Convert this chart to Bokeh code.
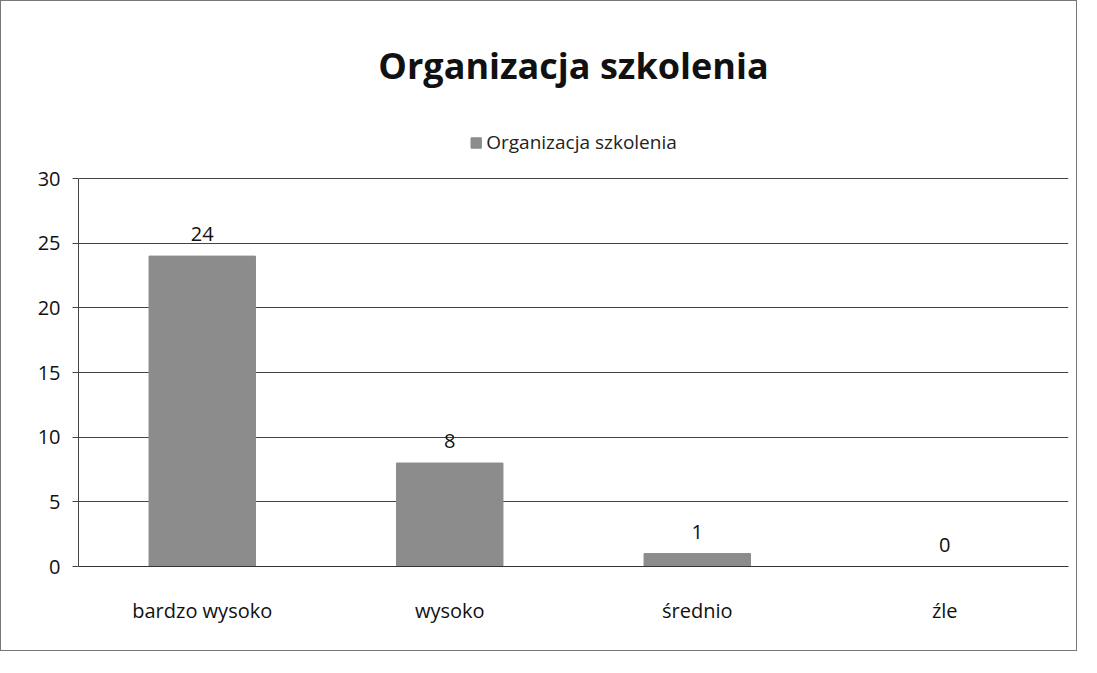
from bokeh.plotting import figure
from bokeh.models import ColumnDataSource, Legend, LegendItem, FixedTicker, Range1d
from bokeh.core.properties import value
from bokeh.embed import file_html
from bokeh.resources import INLINE

title_text = "Organizacja szkolenia"
series_name = "Organizacja szkolenia"
categories = ["bardzo wysoko", "wysoko", "średnio", "źle"]
values = [24, 8, 1, 0]
y_ticks = [0, 5, 10, 15, 20, 25, 30]

FONT = "Open Sans"
src = ColumnDataSource(dict(cat=categories, val=values, lab=[str(v) for v in values]))

# extra headroom above 30 holds the legend; axis line stops at 30
p = figure(x_range=categories, y_range=Range1d(0, 34.64), frame_width=990, frame_height=448,
           output_backend="svg", toolbar_location=None,
           min_border_left=77, min_border_right=8, min_border_bottom=84, min_border_top=117)
p.styles = {"border": "1px solid #777"}

r = p.vbar(x="cat", top="val", width=0.43, source=src, fill_color="#8c8c8c", line_color="#8c8c8c")
p.text(x="cat", y="val", text="lab", source=src, text_align="center", text_baseline="bottom",
       y_offset=-15, text_font=value(FONT), text_font_size="20px", text_color="#111")

p.title.text = title_text
p.title.align = "center"
p.title.text_font = FONT
p.title.text_font_size = "36px"
p.title.text_font_style = "bold"
p.title.text_color = "#111"
p.title.standoff = 57

legend = Legend(items=[LegendItem(label=series_name, renderers=[r])], orientation="horizontal",
                location="top_center", label_text_font=FONT, label_text_font_size="19px",
                label_text_color="#222", border_line_color=None, background_fill_alpha=0,
                glyph_width=13, glyph_height=13, padding=2, margin=11, label_standoff=4)
p.add_layout(legend, "center")

p.yaxis.ticker = FixedTicker(ticks=y_ticks)
p.yaxis.bounds = (0, 30)
p.yaxis.major_label_text_font = FONT
p.yaxis.major_label_text_font_size = "20px"
p.yaxis.major_label_text_color = "#111"
p.yaxis.axis_line_color = "#444"
p.yaxis.major_tick_line_color = "#444"
p.yaxis.major_tick_out = 6
p.yaxis.major_tick_in = 0
p.yaxis.minor_tick_line_color = None
p.yaxis.major_label_standoff = 12

p.xaxis.major_label_text_font = FONT
p.xaxis.major_label_text_font_size = "20px"
p.xaxis.major_label_text_color = "#111"
p.xaxis.axis_line_color = "#333"
p.xaxis.major_tick_line_color = None
p.xaxis.major_label_standoff = 24

p.xgrid.grid_line_color = None
p.ygrid.grid_line_color = "#444"
p.ygrid.grid_line_width = 1
p.outline_line_color = None
p.x_range.range_padding = 0

open("out.html", "w").write(file_html(p, INLINE))
